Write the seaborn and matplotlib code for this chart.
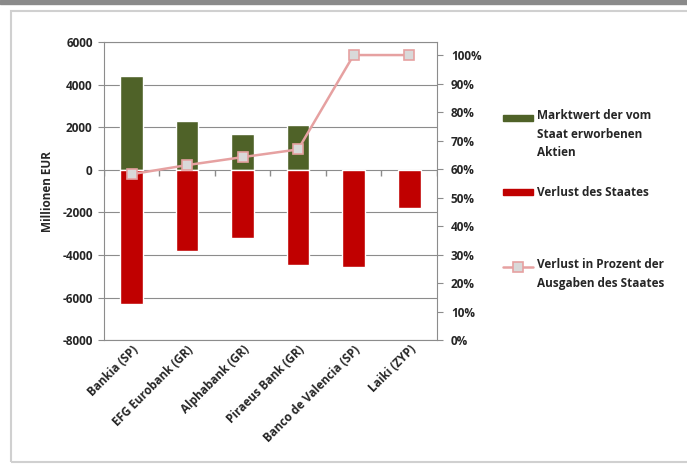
import numpy as np
import matplotlib
matplotlib.use("Agg")
import matplotlib.pyplot as plt
from matplotlib.patches import Rectangle
from matplotlib.lines import Line2D
from matplotlib.ticker import PercentFormatter
import seaborn as sns

# Data (Millionen EUR / share)
banks = ["Bankia (SP)", "EFG Eurobank (GR)", "Alphabank (GR)",
         "Piraeus Bank (GR)", "Banco de Valencia (SP)", "Laiki (ZYP)"]
market_value = [4400, 2300, 1700, 2100, 0, 0]
state_loss = [-6300, -3800, -3200, -4450, -4550, -1800]
loss_pct = [0.582, 0.614, 0.642, 0.669, 1.0, 1.0]

green = "#4F6228"
red = "#C00000"
pink = "#E6A1A1"

sns.set_style("white")
plt.rcParams["font.family"] = ["Open Sans", "DejaVu Sans"]
plt.rcParams["font.weight"] = "bold"
plt.rcParams["axes.unicode_minus"] = False

fig = plt.figure(figsize=(6.87, 4.66), dpi=100)
ax = fig.add_axes([0.151, 0.270, 0.485, 0.640])

sns.barplot(x=banks, y=market_value, color=green, width=0.41, ax=ax,
            saturation=1, zorder=3)
sns.barplot(x=banks, y=state_loss, color=red, width=0.41, ax=ax,
            saturation=1, zorder=3)

fs = 8.5
ax.set_ylim(-8000, 6000)
ax.set_yticks(np.arange(-8000, 6001, 2000))
ax.set_xlim(-0.5, len(banks) - 0.5)
ax.yaxis.grid(True, color="#8c8c8c", linewidth=0.8, zorder=0)
ax.set_axisbelow(True)
for s in ax.spines.values():
    s.set_color("#8c8c8c")
    s.set_linewidth(0.8)
ax.set_ylabel("Millionen EUR", fontsize=fs, fontweight="bold", labelpad=6)
ax.set_xlabel("")
ax.tick_params(axis="y", labelsize=fs, length=4, color="#8c8c8c", left=True, pad=4)
ax.tick_params(axis="x", length=0, pad=2)
ax.set_xticks(range(len(banks)))
ax.set_xticklabels(banks, rotation=45, ha="right", rotation_mode="anchor",
                   fontsize=fs, fontweight="bold")

# small category dividers on the zero line
ax.plot(np.arange(len(banks) + 1) - 0.5, [0] * (len(banks) + 1), linestyle="",
        marker=3, color="#8c8c8c", markersize=4, zorder=2)

ax2 = ax.twinx()
sns.lineplot(x=np.arange(len(banks)), y=loss_pct, ax=ax2, color=pink,
             linewidth=1.8, marker="s", markersize=7, markerfacecolor="#D9D9D9",
             markeredgecolor=pink, markeredgewidth=1.2, zorder=5)
ax2.set_ylim(0, 1.046)
ax2.set_yticks(np.arange(0, 1.01, 0.1))
ax2.yaxis.set_major_formatter(PercentFormatter(1.0, decimals=0))
ax2.tick_params(axis="y", labelsize=fs, length=4, color="#8c8c8c", right=True, pad=6)
for s in ax2.spines.values():
    s.set_visible(False)
ax2.set_xlim(-0.5, len(banks) - 0.5)

# legend drawn by hand
fig.add_artist(Rectangle((503 / 687, 1 - 121 / 466), 30 / 687, 6 / 466,
                         transform=fig.transFigure, color=green))
fig.text(537 / 687, 1 - 109 / 466, "Marktwert der vom\nStaat erworbenen\nAktien",
         fontsize=fs, fontweight="bold", va="top", ha="left", linespacing=1.55)
fig.add_artist(Rectangle((503 / 687, 1 - 195 / 466), 30 / 687, 6 / 466,
                         transform=fig.transFigure, color=red))
fig.text(537 / 687, 1 - 192 / 466, "Verlust des Staates", fontsize=fs,
         fontweight="bold", va="center", ha="left")
fig.add_artist(Line2D([503 / 687, 533 / 687], [1 - 267 / 466] * 2,
                      transform=fig.transFigure, color=pink, linewidth=1.8))
fig.add_artist(Line2D([518 / 687], [1 - 267 / 466], transform=fig.transFigure,
                      marker="s", markersize=7, markerfacecolor="#D9D9D9",
                      markeredgecolor=pink, markeredgewidth=1.2, linestyle=""))
fig.text(537 / 687, 1 - 258 / 466, "Verlust in Prozent der\nAusgaben des Staates",
         fontsize=fs, fontweight="bold", va="top", ha="left", linespacing=1.55)

# outer frame
fig.add_artist(Rectangle((0, 1 - 4 / 466), 1, 4 / 466, transform=fig.transFigure,
                         color="#8a8a8a", zorder=0))
fig.add_artist(Rectangle((11 / 687, 4 / 466), 1.0, 1 - 15 / 466,
                         transform=fig.transFigure, fill=False,
                         edgecolor="#d0d0d0", linewidth=1.5, zorder=0))

fig.savefig("out.png", dpi=100)
